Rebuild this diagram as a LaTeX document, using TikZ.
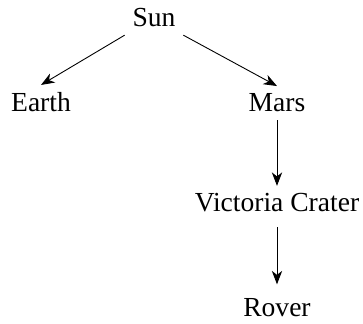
\documentclass[tikz,border=0pt]{standalone}
\usepackage{fontspec}
\setmainfont{Liberation Serif}
\usetikzlibrary{arrows.meta}
\begin{document}
\begin{tikzpicture}[x=0.4464pt, y=-0.4464pt,
		every node/.style={font=\fontsize{12.3}{14}\selectfont, anchor=base},
		arr/.style={-{Stealth[length=6pt, width=4.6pt, inset=1.8pt]}}]
		\useasboundingbox (0, 0) rectangle (363, 324);
		\node (sun) at (154, 27) {Sun};
		\node (earth) at (41, 112) {Earth};
		\node (mars) at (277, 112) {Mars};
		\node (crater) at (277, 212) {Victoria Crater};
		\node (rover) at (277, 317) {Rover};
		\draw[arr] (sun.south west) -- (earth.north);
		\draw[arr] (sun.south east) -- (mars.north);
		\draw[arr] (mars.south) -- (crater.north);
		\draw[arr, shorten <=3pt, shorten >=3pt] (crater.south) -- (rover.north);
	\end{tikzpicture}
\end{document}
